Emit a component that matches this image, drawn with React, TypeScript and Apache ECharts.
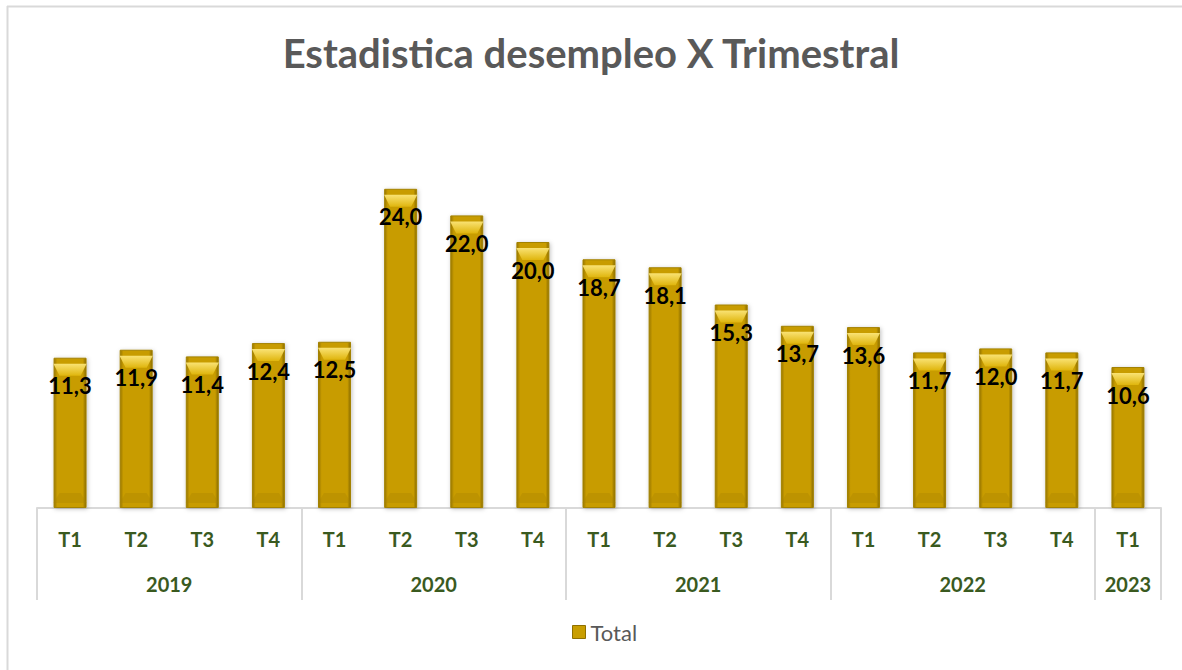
import React, { useEffect, useRef } from "react";
import * as echarts from "echarts";

const categories = ["T1", "T2", "T3", "T4", "T1", "T2", "T3", "T4", "T1", "T2", "T3", "T4", "T1", "T2", "T3", "T4", "T1"];
const values = [11.3, 11.9, 11.4, 12.4, 12.5, 24.0, 22.0, 20.0, 18.7, 18.1, 15.3, 13.7, 13.6, 11.7, 12.0, 11.7, 10.6];
const years = ["2019", "2020", "2021", "2022", "2023"];
const yearStarts = [0, 4, 8, 12, 16];
const yearEnds = [4, 8, 12, 16, 17];

const title = "Estadistica desempleo X Trimestral";
const seriesName = "Total";

export default function App() {
  const ref = useRef<HTMLDivElement>(null);
  useEffect(() => {
    if (!ref.current) return;
    const chart = echarts.init(ref.current, undefined, { renderer: "svg" });
    const yearCenters = yearStarts.map((s, i) => (s + yearEnds[i]) / 2);
    const boundaries = [...yearStarts, 17];
    const green = "#3A5A1F";
    chart.setOption({
      animation: false,
      backgroundColor: "#ffffff",
      title: {
        text: title,
        left: "center",
        top: 28,
        textStyle: { fontFamily: "Lato", fontWeight: "bold", fontSize: 40, color: "#595959" },
      },
      legend: {
        bottom: 22,
        left: 567,
        itemWidth: 13,
        itemHeight: 13,
        itemGap: 6,
        icon: "rect",
        data: [{ name: seriesName, itemStyle: { color: "#C99E00", borderColor: "#8F7000", borderWidth: 1 } }],
        textStyle: { fontFamily: "Lato", fontSize: 22, color: "#595959" },
      },
      graphic: [
        { type: "line", shape: { x1: 7.5, y1: 6, x2: 7.5, y2: 670 }, style: { stroke: "#d9d9d9", lineWidth: 2 } },
        { type: "line", shape: { x1: 7, y1: 6.5, x2: 1182, y2: 6.5 }, style: { stroke: "#d9d9d9", lineWidth: 2 } },
      ],
      grid: { left: 37, right: 21, top: 109, bottom: 162 },
      xAxis: [
        {
          type: "category",
          data: categories,
          axisLine: { show: true, lineStyle: { color: "#d9d9d9", width: 2 } },
          axisTick: { show: false },
          axisLabel: {
            margin: 21,
            fontFamily: "Lato",
            fontWeight: "bold",
            fontSize: 20,
            color: green,
            interval: 0,
          },
        },
        {
          type: "value",
          position: "bottom",
          min: 0,
          max: 17,
          splitLine: { show: false },
          axisLine: { show: false },
          axisTick: {
            show: true,
            length: 92,
            customValues: boundaries,
            lineStyle: { color: "#d9d9d9", width: 2 },
          },
          axisLabel: {
            show: true,
            margin: 66,
            customValues: yearCenters,
            formatter: (v: number) => {
              const idx = yearCenters.findIndex((c) => Math.abs(c - v) < 0.01);
              return idx >= 0 ? years[idx] : "";
            },
            fontFamily: "Lato",
            fontWeight: "bold",
            fontSize: 20,
            color: green,
          },
        },
      ],
      yAxis: { type: "value", min: 0, max: 30, show: false, splitLine: { show: false } },
      series: [
        {
          name: seriesName,
          type: "bar",
          xAxisIndex: 0,
          data: values,
          barWidth: 33,
          itemStyle: {
            color: new echarts.graphic.LinearGradient(0, 0, 1, 0, [
              { offset: 0, color: "#9A7800" },
              { offset: 0.1, color: "#C89C00" },
              { offset: 0.9, color: "#C89C00" },
              { offset: 1, color: "#8A6C00" },
            ]),
            borderColor: "#A38200",
            borderWidth: 1,
            shadowColor: "rgba(0,0,0,0.25)",
            shadowBlur: 4,
            shadowOffsetX: 1,
            shadowOffsetY: 1,
          },
          label: {
            show: true,
            position: "insideTop",
            distance: 17,
            formatter: (p: any) => p.value.toFixed(1).replace(".", ","),
            fontFamily: "Lato",
            fontWeight: "bold",
            fontSize: 22,
            color: "#000000",
          },
          z: 2,
        },
        {
          name: seriesName,
          type: "pictorialBar",
          xAxisIndex: 0,
          data: values,
          symbol: "path://M0,0 L33,0 L27,12 L6,12 Z",
          symbolSize: [33, 12],
          symbolPosition: "end",
          symbolOffset: [0, "50%"],
          itemStyle: {
            color: new echarts.graphic.LinearGradient(0, 0, 0, 1, [
              { offset: 0, color: "#FFEA80" },
              { offset: 1, color: "#E2B80E" },
            ]),
            opacity: 0.9,
          },
          silent: true,
          legendHoverLink: false,
          z: 3,
        },
        {
          name: seriesName,
          type: "pictorialBar",
          xAxisIndex: 0,
          data: values,
          symbol: "path://M6,0 L27,0 L33,10 L0,10 Z",
          symbolSize: [33, 10],
          symbolPosition: "start",
          symbolOffset: [0, "-50%"],
          itemStyle: { color: "#A88300", opacity: 0.35 },
          silent: true,
          legendHoverLink: false,
          z: 3,
        },
      ],
    });
    return () => chart.dispose();
  }, []);
  return (
    <div style={{ position: "fixed", left: 0, top: 0, width: 1182, height: 670 }}>
      <div ref={ref} style={{ width: 1182, height: 670 }} />
    </div>
  );
}
